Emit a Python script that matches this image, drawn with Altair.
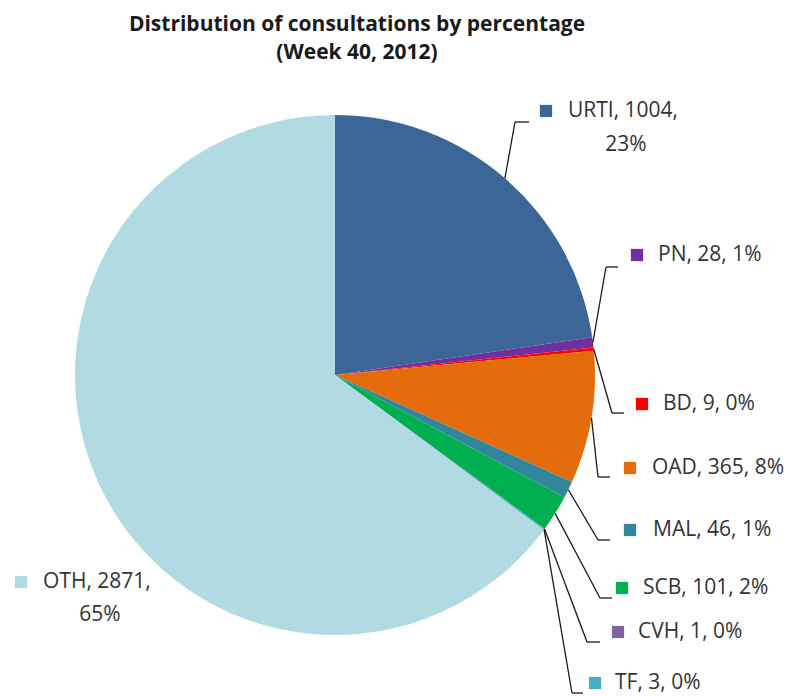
import math
import altair as alt
import pandas as pd
import numpy as np

# ---- data ----
categories = ["URTI", "PN", "BD", "OAD", "MAL", "SCB", "CVH", "TF", "OTH"]
counts = [1004, 28, 9, 365, 46, 101, 1, 3, 2871]
colors = ["#3C6698", "#7030A0", "#FF0000", "#E46C0A", "#31859C",
          "#00B050", "#8064A2", "#4BACC6", "#B1DAE3"]
title_lines = ["Distribution of consultations  by percentage", "(Week 40, 2012)"]

# ---- layout (page pixels) ----
W, H, M = 777, 688, 8
CX, CY, R = 335, 375, 260
FONT = "Open Sans"
FS = 21
label_left = [568, 658, 663, 652, 653, 643, 638, 615, 43]
label_y = [111, 255, 404, 468, 530, 588, 632, 683, 582]
square_x = [546, 637, 642, 630, 630, 622, 618, 595, 21]
elbow_x = [515, 606, 612, 598, 598, 600, 587, 572, None]
elbow_y = [122, 267, 413, 477, 540, 598, 642, 693, None]
end_x = [529, 618, 624, 610, 610, 612, 600, 583, None]
two_line = {"URTI": (626, 145), "OTH": (100, 615)}

total = sum(counts)
pcts = [round(c / total * 100) for c in counts]
cum_end = np.cumsum(counts)
cum_start = cum_end - np.array(counts)
mid = (cum_start + cum_end) / 2 / total * 2 * math.pi

df = pd.DataFrame({"category": categories, "count": counts, "idx": list(range(len(categories)))})

line1 = []
for c, n, p in zip(categories, counts, pcts):
    line1.append(f"{c}, {n}," if c in two_line else f"{c}, {n}, {p}%")

labels = pd.DataFrame({
    "category": categories, "text": line1, "x": label_left, "y": label_y, "sx": square_x,
})
second = pd.DataFrame({
    "text": [f"{pcts[categories.index(c)]}%" for c in two_line],
    "x": [v[0] for v in two_line.values()],
    "y": [v[1] for v in two_line.values()],
})

rows = []
for i, c in enumerate(categories):
    if elbow_x[i] is None:
        continue
    rows.append({
        "category": c,
        "x0": CX + R * math.sin(mid[i]), "y0": CY - R * math.cos(mid[i]),
        "x1": elbow_x[i], "y1": elbow_y[i], "x2": end_x[i],
    })
leaders = pd.DataFrame(rows)

xs = alt.Scale(domain=[M, M + W], nice=False, zero=False)
ys = alt.Scale(domain=[M + H, M], nice=False, zero=False)
cscale = alt.Scale(domain=categories, range=colors)

pie = alt.Chart(df).mark_arc(radius=R).encode(
    theta=alt.Theta("count:Q", stack=True),
    color=alt.Color("category:N", scale=cscale, legend=None),
    order=alt.Order("idx:Q"),
    x=alt.value(CX - M),
    y=alt.value(CY - M),
)

lead1 = alt.Chart(leaders).mark_rule(color="#1a1a1a", strokeWidth=1.3).encode(
    x=alt.X("x0:Q", scale=xs, axis=None), y=alt.Y("y0:Q", scale=ys, axis=None),
    x2="x1:Q", y2="y1:Q",
)
lead2 = alt.Chart(leaders).mark_rule(color="#1a1a1a", strokeWidth=1.3).encode(
    x=alt.X("x1:Q", scale=xs, axis=None), y=alt.Y("y1:Q", scale=ys, axis=None),
    x2="x2:Q",
)

squares = alt.Chart(labels).mark_square(size=150, opacity=1).encode(
    x=alt.X("sx:Q", scale=xs, axis=None), y=alt.Y("y:Q", scale=ys, axis=None),
    color=alt.Color("category:N", scale=cscale, legend=None),
)

text1 = alt.Chart(labels).mark_text(
    align="left", baseline="middle", font=FONT, fontSize=FS, color="#333333"
).encode(
    x=alt.X("x:Q", scale=xs, axis=None), y=alt.Y("y:Q", scale=ys, axis=None), text="text:N"
)
text2 = alt.Chart(second).mark_text(
    align="center", baseline="middle", font=FONT, fontSize=FS, color="#333333"
).encode(
    x=alt.X("x:Q", scale=xs, axis=None), y=alt.Y("y:Q", scale=ys, axis=None), text="text:N"
)

tdf = pd.DataFrame({"text": title_lines, "ty": [25, 53]})
title = alt.Chart(tdf).mark_text(
    align="center", baseline="middle", font=FONT, fontSize=21, fontWeight="bold", color="#1a1a1a"
).encode(
    x=alt.value(357 - M), y=alt.Y("ty:Q", scale=ys, axis=None), text="text:N"
)

chart = alt.layer(pie, lead1, lead2, squares, text1, text2, title).properties(
    width=W, height=H, autosize=alt.AutoSizeParams(type="none"), padding=0
).configure_view(stroke=None)

chart.save("out.html", embed_options={"renderer": "svg", "actions": False})
